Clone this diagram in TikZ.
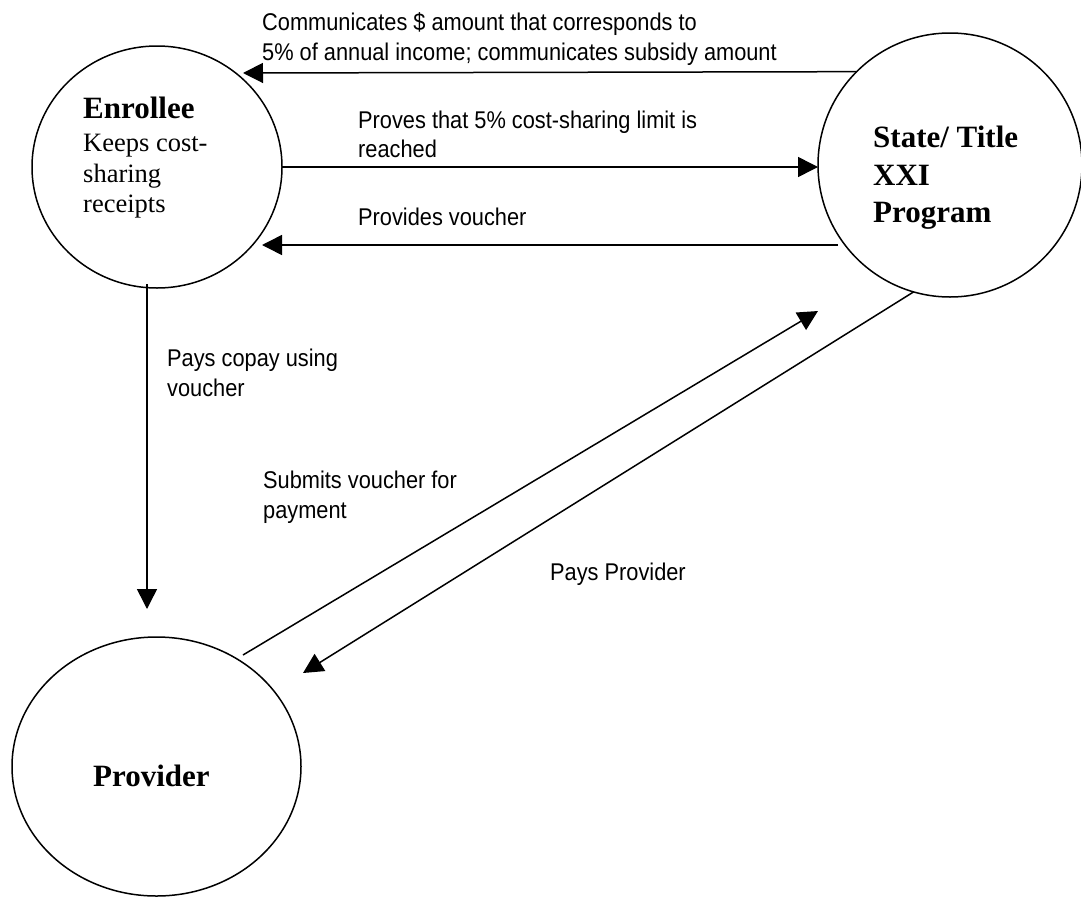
\documentclass[tikz,border=0pt]{standalone}
\usepackage{fontspec}
\setmainfont{Liberation Serif}
\newfontfamily\lblfont[FakeStretch=0.9]{Liberation Sans}
\usetikzlibrary{arrows.meta,shapes.geometric}

\tikzset{
  bubble/.style={ellipse, draw, line width=1.5pt, inner sep=0pt, outer sep=0pt},
  flow/.style={line width=1.5pt, -{Triangle[length=20pt,width=20pt]}},
  lbl/.style={anchor=base west, inner sep=0pt, font=\lblfont\fontsize{24.2}{30}\selectfont},
  title/.style={anchor=base west, inner sep=0pt, font=\bfseries\fontsize{31}{36}\selectfont},
  body/.style={anchor=base west, inner sep=0pt, font=\fontsize{26.5}{31}\selectfont},
}

\begin{document}
\begin{tikzpicture}[x=1pt, y=-1pt]
  \path[fill=white, use as bounding box] (0,0) rectangle (1081,897);

  % the three parties
  \node[bubble, minimum width=250pt, minimum height=242pt] (enr) at (157,167) {};
  \node[bubble, minimum width=264pt, minimum height=264pt] (st) at (950,165) {};
  \node[bubble, minimum width=289pt, minimum height=259pt] (prov) at (156.5,766.5) {};

  % names inside the bubbles
  \node[title] (enrT) at (83,118) {Enrollee};
  \node[body] (enrA) at (83,151) {Keeps cost-};
  \node[body] (enrB) at (83,182) {sharing};
  \node[body] (enrC) at (83,212) {receipts};

  \node[title] (stA) at (873,147) {State/ Title};
  \node[title] (stB) at (873,185) {XXI};
  \node[title] (stC) at (873,222) {Program};

  \node[title] (provT) at (93,786) {Provider};

  % free ends of the connectors
  \coordinate (t1) at (243,73);
  \coordinate (s3) at (838,245);
  \coordinate (t3) at (262,245);
  \coordinate (v0) at (147,284);
  \coordinate (v1) at (147,609);
  \coordinate (d1s) at (243,655);
  \coordinate (d1t) at (818,311);
  \coordinate (d2t) at (303,673);

  % connectors
  \draw[flow] (st.135.8) -- (t1);
  \draw[flow] (enr.east) -- (enr.east -| st.west);
  \draw[flow] (s3) -- (t3);
  \draw[flow] (v0) -- (v1);
  \draw[flow] (d1s) -- (d1t);
  \draw[flow] (st.254.6) -- (d2t);

  % connector labels
  \node[lbl] (l1a) at (262,30) {Communicates \$ amount that corresponds to};
  \node[lbl] (l1b) at (262,60) {5\% of annual income; communicates subsidy amount};
  \node[lbl] (l2a) at (358,128) {Proves that 5\% cost-sharing limit is};
  \node[lbl] (l2b) at (358,157) {reached};
  \node[lbl] (l3) at (358,225) {Provides voucher};
  \node[lbl] (l4a) at (167,366) {Pays copay using};
  \node[lbl] (l4b) at (167,396) {voucher};
  \node[lbl] (l5a) at (263,488) {Submits voucher for};
  \node[lbl] (l5b) at (263,518) {payment};
  \node[lbl] (l6) at (550,580) {Pays Provider};
\end{tikzpicture}
\end{document}
